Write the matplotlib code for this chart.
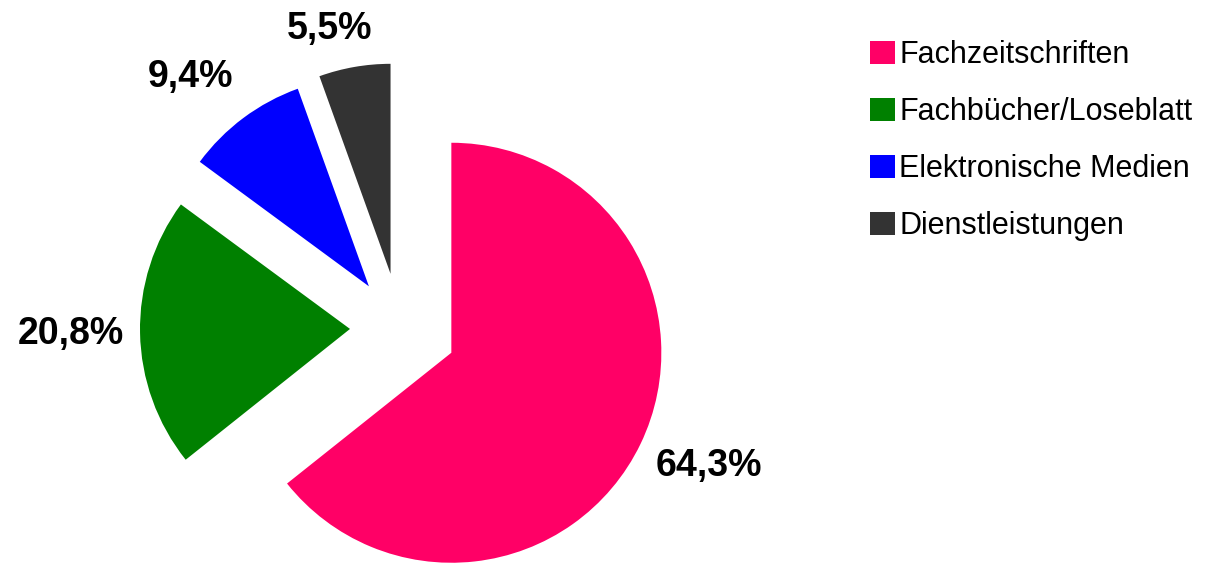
import math
import matplotlib.pyplot as plt
from matplotlib.patches import Patch

# Daten
kategorien = ['Fachzeitschriften', 'Fachbücher/Loseblatt', 'Elektronische Medien', 'Dienstleistungen']
anteile = [64.3, 20.8, 9.4, 5.5]
farben = ['#ff0066', '#008000', '#0000ff', '#333333']
explode = [57, 50, 52, 55]  # Versatz in Pixeln (Datenkoordinaten)
label_abstand = [1.34, 1.33, 1.31, 1.20]
label_drehung = [2.0, 0.0, 3.7, 4.1]  # Grad

plt.rcParams['font.family'] = ['Liberation Sans', 'DejaVu Sans']

fig = plt.figure(figsize=(12.06, 5.63), dpi=100)
ax = fig.add_axes([0, 0, 1, 1])

def fmt(p):
    return f'{p:.1f}%'.replace('.', ',')

radius = 210
wedges, texts, autotexts = ax.pie(anteile, colors=farben, explode=explode,
                                  startangle=90, counterclock=False,
                                  center=(400, 235), radius=radius,
                                  autopct=fmt, frame=True)
for w, t, d, dw in zip(wedges, autotexts, label_abstand, label_drehung):
    mitte = math.radians((w.theta1 + w.theta2) / 2 + dw)
    cx, cy = w.center
    t.set_position((cx + d * radius * math.cos(mitte), cy + d * radius * math.sin(mitte)))
    t.set_fontsize(27)
    t.set_fontweight('bold')
    t.set_color('black')

ax.set_xlim(0, 1206)
ax.set_ylim(0, 563)
ax.set_aspect('equal')
ax.axis('off')

handles = [Patch(facecolor=c, edgecolor='none') for c in farben]
fig.legend(handles, kategorien, loc='upper left', bbox_to_anchor=(855 / 1206, 1 - 25 / 563),
           frameon=False, fontsize=22, handlelength=0.8, handleheight=0.8,
           handletextpad=0.15, labelspacing=0.88, borderpad=0)

fig.savefig('out.png', dpi=100)
